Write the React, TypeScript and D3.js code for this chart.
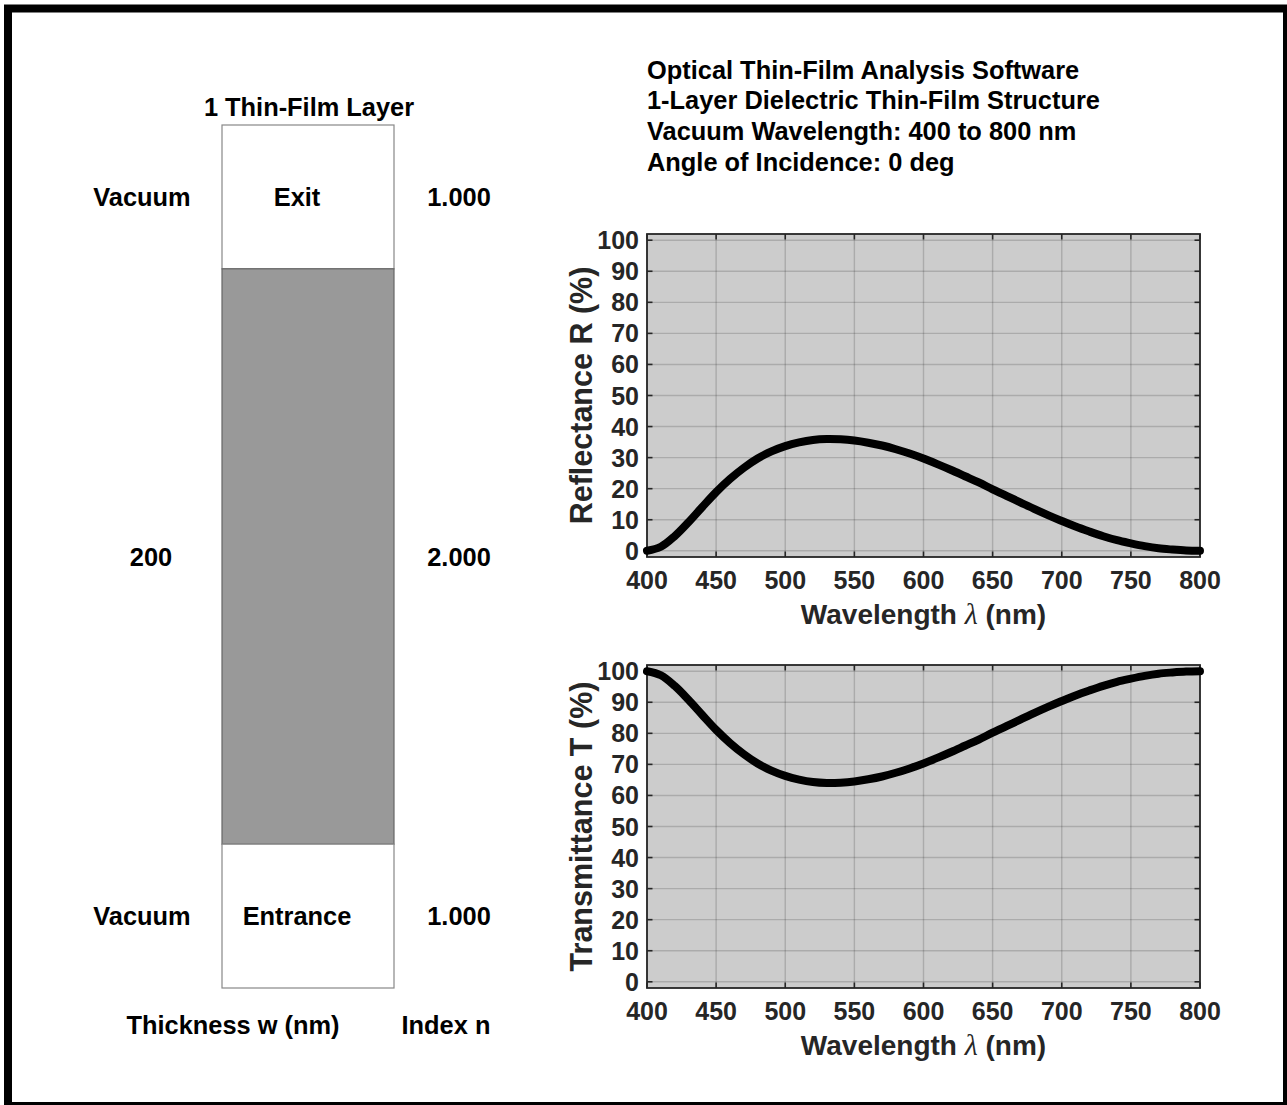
import React from "react";
import * as d3 from "d3";

// ---------- data ----------
const wavelengths = [
  400, 410, 420, 430, 440, 450, 460, 470, 480, 490, 500, 510, 520, 530, 540,
  550, 560, 570, 580, 590, 600, 610, 620, 630, 640, 650, 660, 670, 680, 690,
  700, 710, 720, 730, 740, 750, 760, 770, 780, 790, 800,
];
const reflectance = [
  0.0, 1.3, 4.7, 9.2, 14.1, 18.9, 23.1, 26.7, 29.7, 32.0, 33.7, 34.9, 35.7,
  36.0, 35.9, 35.5, 34.8, 33.9, 32.7, 31.3, 29.7, 27.9, 26.0, 24.0, 22.0, 19.8,
  17.7, 15.6, 13.5, 11.5, 9.6, 7.8, 6.2, 4.7, 3.4, 2.4, 1.5, 0.8, 0.4, 0.1, 0.0,
];
const transmittance = [
  100.0, 98.7, 95.3, 90.8, 85.9, 81.1, 76.9, 73.3, 70.3, 68.0, 66.3, 65.1,
  64.3, 64.0, 64.1, 64.5, 65.2, 66.1, 67.3, 68.7, 70.3, 72.1, 74.0, 76.0, 78.0,
  80.2, 82.3, 84.4, 86.5, 88.5, 90.4, 92.2, 93.8, 95.3, 96.6, 97.6, 98.5, 99.2,
  99.6, 99.9, 100.0,
];
const xTicks = [400, 450, 500, 550, 600, 650, 700, 750, 800];
const yTicks = [0, 10, 20, 30, 40, 50, 60, 70, 80, 90, 100];

const titleLines = [
  "Optical Thin-Film Analysis Software",
  "1-Layer Dielectric Thin-Film Structure",
  "Vacuum Wavelength: 400 to 800 nm",
  "Angle of Incidence: 0 deg",
];

const layerNames = ["Exit", "", "Entrance"];
const layerLeft = ["Vacuum", "200", "Vacuum"];
const layerIndex = ["1.000", "2.000", "1.000"];
const layerWeights = [1, 4, 1]; // relative drawing heights (exit, film, entrance)

// ---------- style ----------
const FONT = "'Liberation Sans', Arial, Helvetica, sans-serif";
const AX = "#262626";

const W = 1287;
const H = 1105;

type PlotProps = {
  top: number;
  values: number[];
  ylabel: string;
};

const PLOT_LEFT = 647;
const PLOT_RIGHT = 1200;
const PLOT_H = 323;

function Plot({ top, values, ylabel }: PlotProps) {
  const x = d3.scaleLinear().domain([400, 800]).range([PLOT_LEFT, PLOT_RIGHT]);
  const y = d3.scaleLinear().domain([-2, 102]).range([top + PLOT_H, top]);
  const bottom = top + PLOT_H;
  const line = d3
    .line<number>()
    .x((_, i) => x(wavelengths[i]))
    .y((d) => y(d))
    .curve(d3.curveCatmullRom.alpha(0.5));
  const tl = 5.5;
  return (
    <g>
      <rect
        x={PLOT_LEFT}
        y={top}
        width={PLOT_RIGHT - PLOT_LEFT}
        height={PLOT_H}
        fill="#cccccc"
      />
      {/* grid */}
      {xTicks.map((t) => (
        <line
          key={"gx" + t}
          x1={x(t)}
          x2={x(t)}
          y1={top}
          y2={bottom}
          stroke="#262626"
          strokeOpacity={0.2}
          strokeWidth={1.4}
        />
      ))}
      {yTicks.map((t) => (
        <line
          key={"gy" + t}
          x1={PLOT_LEFT}
          x2={PLOT_RIGHT}
          y1={y(t)}
          y2={y(t)}
          stroke="#262626"
          strokeOpacity={0.2}
          strokeWidth={1.4}
        />
      ))}
      {/* ticks */}
      {xTicks.map((t) => (
        <g key={"tx" + t}>
          <line x1={x(t)} x2={x(t)} y1={bottom} y2={bottom - tl} stroke={AX} strokeWidth={1.6} />
          <line x1={x(t)} x2={x(t)} y1={top} y2={top + tl} stroke={AX} strokeWidth={1.6} />
          <text
            x={x(t)}
            y={bottom + 32}
            textAnchor="middle"
            fontFamily={FONT}
            fontWeight="bold"
            fontSize={25}
            fill={AX}
          >
            {t}
          </text>
        </g>
      ))}
      {yTicks.map((t) => (
        <g key={"ty" + t}>
          <line x1={PLOT_LEFT} x2={PLOT_LEFT + tl} y1={y(t)} y2={y(t)} stroke={AX} strokeWidth={1.6} />
          <line x1={PLOT_RIGHT} x2={PLOT_RIGHT - tl} y1={y(t)} y2={y(t)} stroke={AX} strokeWidth={1.6} />
          <text
            x={639}
            y={y(t) + 9}
            textAnchor="end"
            fontFamily={FONT}
            fontWeight="bold"
            fontSize={25}
            fill={AX}
          >
            {t}
          </text>
        </g>
      ))}
      <rect
        x={PLOT_LEFT}
        y={top}
        width={PLOT_RIGHT - PLOT_LEFT}
        height={PLOT_H}
        fill="none"
        stroke={AX}
        strokeWidth={1.8}
      />
      <path
        d={line(values) || ""}
        fill="none"
        stroke="#000"
        strokeWidth={8}
        strokeLinecap="round"
        strokeLinejoin="round"
      />
      {/* axis labels */}
      <text
        x={(PLOT_LEFT + PLOT_RIGHT) / 2}
        y={bottom + 67}
        textAnchor="middle"
        fontFamily={FONT}
        fontWeight="bold"
        fontSize={28}
        fill={AX}
      >
        Wavelength{" "}
        <tspan fontFamily="'Liberation Serif', 'DejaVu Serif', serif" fontStyle="italic" fontWeight="normal" fontSize={30}>
          λ
        </tspan>{" "}
        (nm)
      </text>
      <text
        transform={`translate(${592},${top + PLOT_H / 2}) rotate(-90)`}
        textAnchor="middle"
        fontFamily={FONT}
        fontWeight="bold"
        fontSize={30.5}
        fill={AX}
      >
        {ylabel}
      </text>
    </g>
  );
}

function LayerDiagram() {
  const boxLeft = 222;
  const boxRight = 394;
  const boxTop = 125;
  const boxBottom = 988;
  const total = d3.sum(layerWeights);
  const yScale = d3.scaleLinear().domain([0, total]).range([boxTop, boxBottom]);
  const cum = [0];
  layerWeights.forEach((w, i) => cum.push(cum[i] + w));
  const fills = ["#ffffff", "#999999", "#ffffff"];
  const cx = (boxLeft + boxRight) / 2;
  const txt = {
    fontFamily: FONT,
    fontWeight: "bold" as const,
    fontSize: 25.4,
    fill: "#000",
  };
  const leftX = [142, 151, 142];
  return (
    <g>
      <text x={309} y={116} textAnchor="middle" {...txt}>
        1 Thin-Film Layer
      </text>
      {layerWeights.map((w, i) => {
        const y0 = yScale(cum[i]);
        const y1 = yScale(cum[i + 1]);
        const mid = (y0 + y1) / 2;
        return (
          <g key={i}>
            <rect
              x={boxLeft}
              y={y0}
              width={boxRight - boxLeft}
              height={y1 - y0}
              fill={fills[i]}
              stroke={i === 1 ? "#666666" : "#888888"}
              strokeWidth={1.2}
            />
            {layerNames[i] && (
              <text x={cx - 11} y={mid + 9} textAnchor="middle" {...txt}>
                {layerNames[i]}
              </text>
            )}
            <text x={leftX[i]} y={mid + 9} textAnchor="middle" {...txt}>
              {layerLeft[i]}
            </text>
            <text x={459} y={mid + 9} textAnchor="middle" {...txt}>
              {layerIndex[i]}
            </text>
          </g>
        );
      })}
      <text x={233} y={1034} textAnchor="middle" {...txt}>
        Thickness w (nm)
      </text>
      <text x={446} y={1034} textAnchor="middle" {...txt}>
        Index n
      </text>
    </g>
  );
}

export default function App() {
  return (
    <svg
      width={W}
      height={H}
      viewBox={`0 0 ${W} ${H}`}
      style={{ position: "absolute", left: 0, top: 0, background: "#fff" }}
    >
      <rect x={0} y={0} width={W} height={H} fill="#fff" />
      <rect x={8} y={8.5} width={1279} height={1097.5} fill="none" stroke="#000" strokeWidth={8} />
      {titleLines.map((l, i) => (
        <text
          key={i}
          x={647}
          y={78.5 + i * 30.7}
          fontFamily={FONT}
          fontWeight="bold"
          fontSize={25.4}
          fill="#000"
        >
          {l}
        </text>
      ))}
      <LayerDiagram />
      <Plot top={234} values={reflectance} ylabel="Reflectance R (%)" />
      <Plot top={665} values={transmittance} ylabel="Transmittance T (%)" />
    </svg>
  );
}
